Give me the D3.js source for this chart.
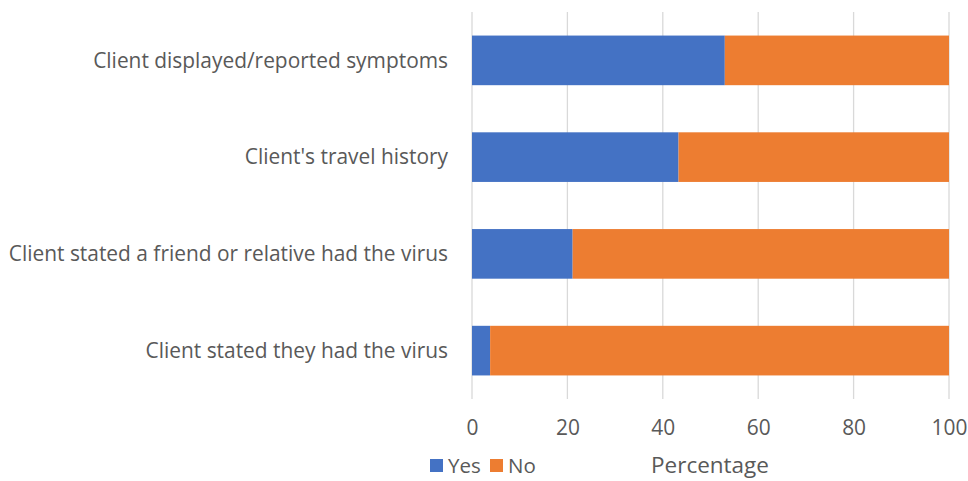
<!DOCTYPE html>
<html>
<head>
<meta charset="utf-8">
<script src="https://cdn.jsdelivr.net/npm/d3@7"></script>
<style>
  html, body { margin: 0; padding: 0; background: #fff; }
  svg text { font-family: "Open Sans", "Liberation Sans", sans-serif; fill: #595959; }
</style>
</head>
<body>
<svg id="chart" width="968" height="481"></svg>
<script>
const categories = [
  "Client displayed/reported symptoms",
  "Client's travel history",
  "Client stated a friend or relative had the virus",
  "Client stated they had the virus"
];
const yesValues = [53.0, 43.3, 21.1, 3.8];
const noValues = [47.0, 56.7, 78.9, 96.2];
const xTicks = [0, 20, 40, 60, 80, 100];
const seriesNames = ["Yes", "No"];
const seriesColors = ["#4472C4", "#ED7D31"];

const svg = d3.select("#chart");
const x = d3.scaleLinear().domain([0, 100]).range([472, 949]);
const y = d3.scaleBand().domain(categories).range([12, 399]).paddingInner(0.487).paddingOuter(0.2435);

// gridlines
svg.append("g").selectAll("line").data(xTicks).join("line")
  .attr("x1", d => x(d)).attr("x2", d => x(d))
  .attr("y1", 12).attr("y2", 399)
  .attr("stroke", "#d9d9d9").attr("stroke-width", 1.3);

const rows = categories.map((c, i) => ({ cat: c, yes: yesValues[i], no: noValues[i] }));
const stack = d3.stack().keys(["yes", "no"])(rows);

svg.append("g").selectAll("g").data(stack).join("g")
  .attr("fill", (d, i) => seriesColors[i])
  .selectAll("rect").data(d => d).join("rect")
  .attr("x", d => x(d[0]))
  .attr("width", d => x(d[1]) - x(d[0]))
  .attr("y", d => y(d.data.cat))
  .attr("height", y.bandwidth());

// y axis labels
const yAxis = d3.axisLeft(y).tickSize(0).tickPadding(0);
const yg = svg.append("g").attr("transform", "translate(448,0)").call(yAxis);
yg.select(".domain").remove();
yg.selectAll("text").style("font-size", "20.9px").attr("dy", "0.35em");

// x axis labels
const xAxis = d3.axisBottom(x).tickValues(xTicks).tickSize(0).tickPadding(0);
const xg = svg.append("g").attr("transform", "translate(0,420)").call(xAxis);
xg.select(".domain").remove();
xg.selectAll("text").style("font-size", "20.9px").attr("dy", "0.71em");

// axis title
svg.append("text").attr("x", 710).attr("y", 473).attr("text-anchor", "middle")
  .style("font-size", "22.5px").text("Percentage");

// legend
const lg = svg.append("g");
const legendX = [430, 490];
seriesNames.forEach((n, i) => {
  lg.append("rect").attr("x", legendX[i]).attr("y", 459).attr("width", 13).attr("height", 13).attr("fill", seriesColors[i]);
  lg.append("text").attr("x", legendX[i] + 18).attr("y", 473).style("font-size", "20.5px").text(n);
});
</script>
</body>
</html>
